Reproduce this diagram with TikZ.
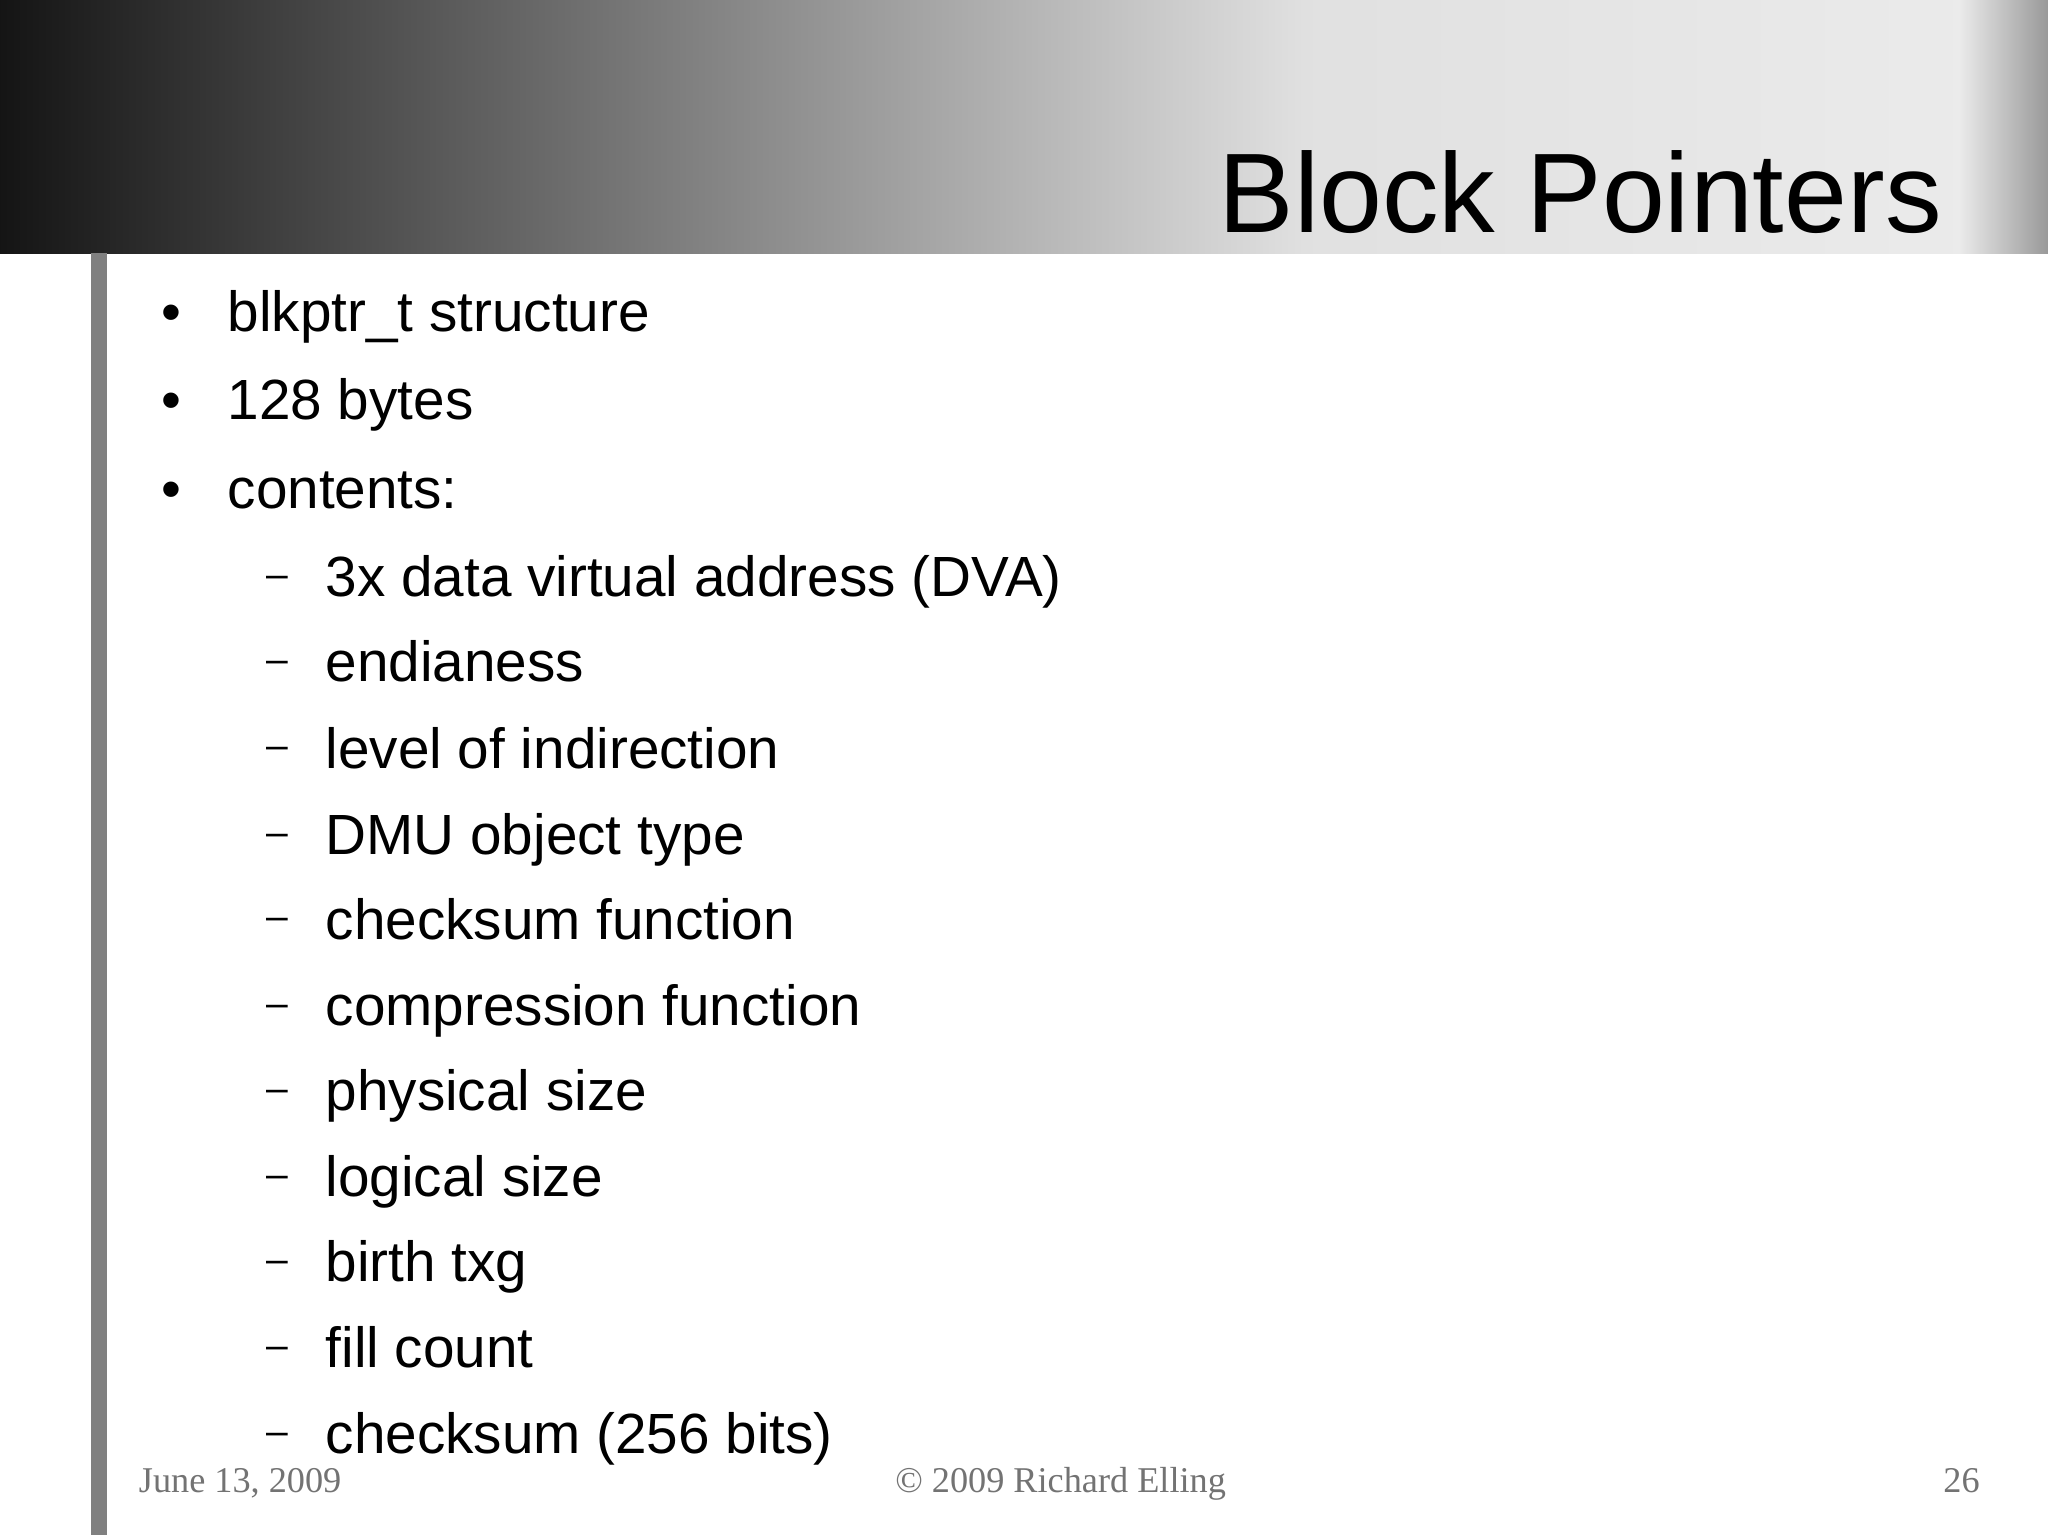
\documentclass[tikz,border=0pt]{standalone}
\usepackage{fontspec}
\setmainfont{Liberation Sans}
\newfontfamily\footfont{Liberation Serif}
\begin{document}
\begin{tikzpicture}[x=0.02cm,y=-0.02cm,
  body/.style={anchor=base west,inner sep=0pt,font=\fontsize{24.7}{28}\selectfont},
  dashmark/.style={anchor=base west,inner sep=0pt,font=\fontsize{17}{20}\selectfont},
  foot/.style={anchor=base,inner sep=0pt,text=black!55,font=\footfont\fontsize{15.8}{18}\selectfont}]
\useasboundingbox (0,0) rectangle (1568,1175);
\fill[white] (0,0) rectangle (1568,1175);
\shade[left color=black!92,right color=black!12] (0,0) rectangle (1000,194);
\shade[left color=black!12,right color=black!8] (1000,0) rectangle (1500,194);
\shade[left color=black!8,right color=black!40] (1500,0) rectangle (1568,194);
\fill[black!50] (70,194) rectangle (82,1175);
\node[anchor=base east,inner sep=0pt,font=\fontsize{49.3}{54}\selectfont] (title) at (1487,178) {Block Pointers};
\foreach \t/\y [count=\i] in {{blkptr\_t structure}/254,{128 bytes}/321,{contents:}/389}{
  \node[body] (b\i) at (174,\y) {\t};
  \node[body] (bb\i) at (123,\y) {•};
}
\foreach \t/\y [count=\i] in {{3x data virtual address (DVA)}/457,{endianess}/522,{level of indirection}/588,{DMU object type}/654,{checksum function}/719,{compression function}/785,{physical size}/850,{logical size}/916,{birth txg}/981,{fill count}/1047,{checksum (256 bits)}/1113}{
  \node[body] (s\i) at (249,\y) {\t};
  \node[dashmark] (sd\i) at (204,\y-7) {–};
}
\node[foot,anchor=base west] (f1) at (106,1143) {June 13, 2009};
\node[foot] (f2) at (812,1143) {© 2009 Richard Elling};
\node[foot,anchor=base east] (f3) at (1516,1143) {26};
\end{tikzpicture}
\end{document}
